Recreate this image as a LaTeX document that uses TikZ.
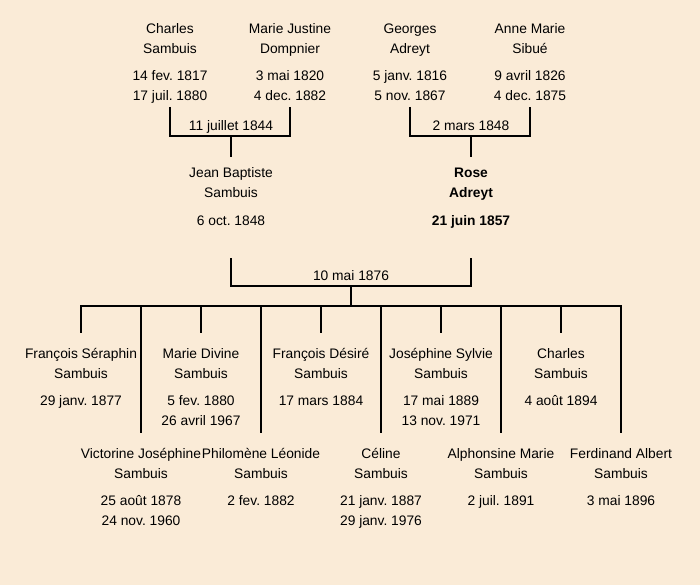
\documentclass[tikz,border=0pt]{standalone}
\usepackage{fontspec}
\setmainfont{Liberation Sans}
\frenchspacing
\definecolor{bgcream}{RGB}{250,235,215}
\newcommand\gfont{\fontsize{13.8}{20}\selectfont}
\tikzset{
  person/.style={anchor=north,align=center,inner sep=0pt,font=\gfont},
  wed/.style={anchor=base,inner sep=0pt,font=\gfont},
  link/.style={line width=2pt}
}
\begin{document}
\begin{tikzpicture}[x=1pt,y=-1pt]
\fill[bgcream] (0,0) rectangle (700,585);
% grandparents
\node[person] (charles) at (170,19) {\strut Charles\\Sambuis\\[7.5pt]14 fev. 1817\\17 juil. 1880\strut};
\node[person] (marie) at (290,19) {\strut Marie Justine\\Dompnier\\[7.5pt]3 mai 1820\\4 dec. 1882\strut};
\node[person] (georges) at (410,19) {\strut Georges\\Adreyt\\[7.5pt]5 janv. 1816\\5 nov. 1867\strut};
\node[person] (anne) at (530,19) {\strut Anne Marie\\Sibué\\[7.5pt]9 avril 1826\\4 dec. 1875\strut};
% parents
\node[person] (jean) at (231,163.5) {\strut Jean Baptiste\\Sambuis\\[7.5pt]6 oct. 1848\strut};
\node[person,font=\gfont\bfseries] (rose) at (471,163.5) {\strut Rose\\Adreyt\\[7.5pt]21 juin 1857\strut};
% wedding labels
\node[wed] (w1) at (231,130.5) {11 juillet 1844};
\node[wed] (w2) at (471,130.5) {2 mars 1848};
\node[wed] (w3) at (351,280.5) {10 mai 1876};
% children
\node[person] (c1) at (81,344) {\strut François Séraphin\\Sambuis\\[7.5pt]29 janv. 1877\strut};
\node[person] (c2) at (141,444) {\strut Victorine Joséphine\\Sambuis\\[7.5pt]25 août 1878\\24 nov. 1960\strut};
\node[person] (c3) at (201,344) {\strut Marie Divine\\Sambuis\\[7.5pt]5 fev. 1880\\26 avril 1967\strut};
\node[person] (c4) at (261,444) {\strut Philomène Léonide\\Sambuis\\[7.5pt]2 fev. 1882\strut};
\node[person] (c5) at (321,344) {\strut François Désiré\\Sambuis\\[7.5pt]17 mars 1884\strut};
\node[person] (c6) at (381,444) {\strut Céline\\Sambuis\\[7.5pt]21 janv. 1887\\29 janv. 1976\strut};
\node[person] (c7) at (441,344) {\strut Joséphine Sylvie\\Sambuis\\[7.5pt]17 mai 1889\\13 nov. 1971\strut};
\node[person] (c8) at (501,444) {\strut Alphonsine Marie\\Sambuis\\[7.5pt]2 juil. 1891\strut};
\node[person] (c9) at (561,344) {\strut Charles\\Sambuis\\[7.5pt]4 août 1894\strut};
\node[person] (c10) at (621,444) {\strut Ferdinand Albert\\Sambuis\\[7.5pt]3 mai 1896\strut};
% junction points
\coordinate (u1) at (231,136);
\coordinate (u2) at (471,136);
\coordinate (u3) at (351,286);
\coordinate (k) at (351,305.5);
% connectors
\draw[link] (charles.south) |- (u1) -| (marie.south);
\draw[link] (u1) -- ([yshift=6.5pt]jean.north);
\draw[link] (georges.south) |- (u2) -| (anne.south);
\draw[link] (u2) -- ([yshift=6.5pt]rose.north);
\draw[link] ([yshift=-27pt]jean.south) |- (u3) -| ([yshift=-27pt]rose.south);
\draw[link] (u3) -- (k);
\foreach \c in {c1,c2,c3,c4,c5,c6,c7,c8,c9,c10}
  \draw[link] (k) -| ([yshift=11pt]\c.north);
\end{tikzpicture}
\end{document}
